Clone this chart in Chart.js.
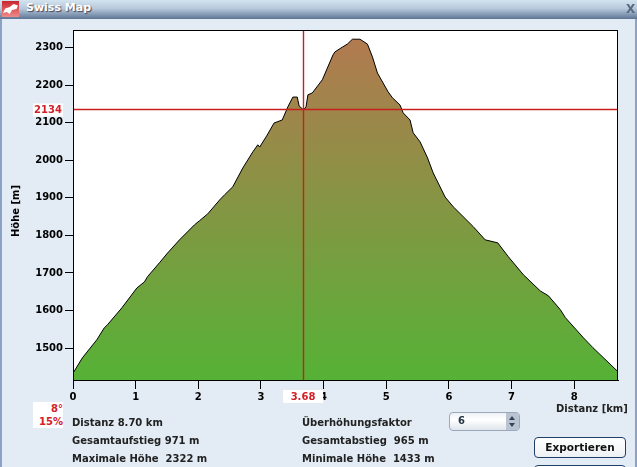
<!DOCTYPE html>
<html>
<head>
<meta charset="utf-8">
<title>Swiss Map</title>
<script src="https://cdn.jsdelivr.net/npm/chart.js@4/dist/chart.umd.min.js"></script>
<style>
html, body { margin: 0; padding: 0; }
body { width: 637px; height: 467px; overflow: hidden; position: relative; background: #e3ecf5; font-family: "DejaVu Sans", sans-serif; }
#chart { position: absolute; left: 0; top: 0; }
.bar { position: absolute; left: 0; top: 0; width: 637px; height: 19px; background: linear-gradient(#d3e3ef, #b6c9dc 45%, #5d7494); }
.edge-l { position: absolute; left: 0; top: 19px; width: 2px; height: 448px; background: #8ba2c6; }
.edge-r { position: absolute; left: 635px; top: 19px; width: 2px; height: 448px; background: #8ba2c6; }
.icon { position: absolute; left: 2px; top: 1px; width: 17px; height: 16px; background: linear-gradient(#c8252b, #f08a8a); }
.icon div { position: absolute; left: 1px; top: 3px; width: 15px; height: 10px; background: #fff; clip-path: polygon(0 90%, 15% 45%, 45% 30%, 70% 0, 100% 15%, 90% 50%, 60% 60%, 45% 100%, 25% 80%); }
.title { position: absolute; left: 26px; top: 1px; color: #fff; font-size: 11px; font-weight: bold; text-shadow: 1px 1px 1px #445; }
.close { position: absolute; left: 626px; top: 2px; color: #5a6a80; font-size: 12px; font-weight: bold; }
.t { position: absolute; font-size: 10px; font-weight: bold; color: #222; white-space: pre; line-height: 12px; }
.ytitle { position: absolute; left: -14px; top: 205px; width: 60px; text-align: center; font-size: 10px; font-weight: bold; color: #000; line-height: 12px; transform: rotate(-90deg); }
.slope { position: absolute; left: 33px; top: 402px; width: 30px; height: 26px; background: #fff; color: #d32027; font-size: 10px; font-weight: bold; text-align: right; line-height: 13px; }
.spin { position: absolute; left: 449px; top: 412px; width: 69px; height: 17px; border: 1px solid #9aa8bc; border-radius: 4px; background: linear-gradient(#eef2f6, #ffffff 40%, #dfe5ec); }
.spin span { position: absolute; left: 8px; top: 2px; font-size: 10px; font-weight: bold; color: #234; }
.arrows { position: absolute; right: 0; top: 0; width: 13px; height: 17px; background: #b9c3d1; border-radius: 0 3px 3px 0; }
.up, .down { position: absolute; left: 3px; width: 0; height: 0; border-left: 3.5px solid transparent; border-right: 3.5px solid transparent; }
.up { top: 3px; border-bottom: 4px solid #345; }
.down { top: 10px; border-top: 4px solid #345; }
.btn { position: absolute; left: 534px; width: 90px; height: 19px; border: 1px solid #1f3f66; border-radius: 4px; background: linear-gradient(#ffffff, #eef1f4); font-size: 10.5px; font-weight: bold; color: #111; text-align: center; line-height: 19px; }
</style>
</head>
<body>
<canvas id="chart" width="637" height="467"></canvas>

<div class="bar"></div>
<div class="edge-l"></div>
<div class="edge-r"></div>
<div class="icon"><div></div></div>
<div class="title">Swiss Map</div>
<div class="close">X</div>

<div class="ytitle">Höhe [m]</div>
<div class="slope">8°<br>15%</div>
<div class="t" style="left:72px;top:417px">Distanz 8.70 km</div>
<div class="t" style="left:72px;top:435px">Gesamtaufstieg 971 m</div>
<div class="t" style="left:72px;top:453px">Maximale Höhe  2322 m</div>
<div class="t" style="left:302px;top:417px">Überhöhungsfaktor</div>
<div class="t" style="left:302px;top:435px">Gesamtabstieg  965 m</div>
<div class="t" style="left:302px;top:453px">Minimale Höhe  1433 m</div>
<div class="t" style="left:556px;top:403px">Distanz [km]</div>

<div class="spin"><span>6</span><div class="arrows"><div class="up"></div><div class="down"></div></div></div>
<div class="btn" style="top:437px">Exportieren</div>
<div class="btn" style="top:465px"></div>

<script>
// profile
const distanceKm = [0, 0.15, 0.38, 0.50, 0.55, 0.78, 1.02, 1.14, 1.19, 1.38, 1.51, 1.70, 1.94, 2.02, 2.15, 2.34, 2.42, 2.55, 2.71, 2.87, 2.95, 2.98, 3.10, 3.21, 3.34, 3.43, 3.51, 3.58, 3.61, 3.68, 3.72, 3.75, 3.82, 3.98, 4.15, 4.18, 4.30, 4.38, 4.46, 4.58, 4.70, 4.78, 4.86, 5.03, 5.10, 5.22, 5.27, 5.38, 5.43, 5.54, 5.66, 5.75, 5.94, 6.07, 6.39, 6.58, 6.78, 6.95, 7.19, 7.46, 7.59, 7.78, 7.86, 8.15, 8.30, 8.70];
const heightM = [1433, 1474, 1522, 1554, 1562, 1607, 1660, 1676, 1690, 1727, 1753, 1788, 1828, 1839, 1857, 1894, 1908, 1929, 1979, 2022, 2041, 2035, 2067, 2099, 2107, 2142, 2168, 2168, 2144, 2134, 2142, 2174, 2179, 2214, 2280, 2288, 2301, 2309, 2322, 2322, 2309, 2275, 2232, 2182, 2166, 2147, 2126, 2107, 2073, 2049, 2006, 1966, 1902, 1876, 1823, 1788, 1780, 1743, 1695, 1652, 1639, 1602, 1581, 1527, 1501, 1437];
const xTickValues = [0, 1, 2, 3, 4, 5, 6, 7, 8];
const yTickValues = [1500, 1600, 1700, 1800, 1900, 2000, 2100, 2200, 2300];
const cursorKm = 3.68;
const cursorM = 2134;

const RED = '#c8201f';
const tickFont = { family: 'DejaVu Sans', size: 10, weight: 'bold' };

function areaGradient(ctx) {
    const chart = ctx.chart;
    if (!chart.chartArea) return '#8a9a45';
    const yScale = chart.scales.y;
    const g = chart.ctx.createLinearGradient(0, yScale.getPixelForValue(2322), 0, chart.chartArea.bottom);
    g.addColorStop(0, '#b27a50');
    g.addColorStop(1, '#55b236');
    return g;
}

const frame = {
    id: 'frame',
    beforeDraw(chart) {
        const a = chart.chartArea;
        chart.ctx.fillStyle = '#fff';
        chart.ctx.fillRect(a.left, a.top, a.width, a.height);
    },
    afterDraw(chart) {
        const c = chart.ctx, a = chart.chartArea;
        const px = Math.floor(chart.scales.x.getPixelForValue(cursorKm)) + 0.5;
        const py = Math.floor(chart.scales.y.getPixelForValue(cursorM)) + 0.5;
        c.save();
        // crosshair
        c.strokeStyle = RED;
        c.lineWidth = 1.4;
        c.beginPath();
        c.moveTo(a.left, py); c.lineTo(a.right, py);
        c.moveTo(px, a.top); c.lineTo(px, a.bottom);
        c.stroke();
        // plot border
        c.lineWidth = 1;
        c.strokeStyle = '#000';
        c.strokeRect(a.left + 0.5, a.top + 0.5, a.width - 1, a.height);
        // value boxes
        c.fillStyle = '#fff';
        c.fillRect(33, py - 6, 30, 13);
        c.fillRect(283, 390, 40, 13);
        c.fillStyle = '#d32027';
        c.font = 'bold 10px "DejaVu Sans"';
        c.textBaseline = 'middle';
        c.textAlign = 'center';
        c.fillText(String(cursorM), 48, py + 0.5);
        c.fillText(cursorKm.toFixed(2), 303, 397);
        c.restore();
    }
};

new Chart(document.getElementById('chart'), {
    type: 'line',
    data: {
        datasets: [{
            data: distanceKm.map((d, i) => ({ x: d, y: heightM[i] })),
            borderColor: '#000',
            borderWidth: 1,
            backgroundColor: areaGradient,
            fill: 'start',
            pointRadius: 0,
            tension: 0
        }]
    },
    options: {
        responsive: false,
        animation: false,
        layout: { padding: { top: 30, right: 19, left: 0, bottom: 0 } },
        plugins: { legend: { display: false }, tooltip: { enabled: false } },
        scales: {
            x: {
                type: 'linear',
                min: 0,
                max: 8.7,
                afterBuildTicks: s => { s.ticks = xTickValues.map(v => ({ value: v })); },
                afterFit: s => { s.height = 87; },
                grid: { drawOnChartArea: false, tickLength: 9, tickColor: '#000' },
                border: { color: '#000' },
                ticks: { color: '#000', font: tickFont, padding: 2, maxRotation: 0, callback: v => String(v) }
            },
            y: {
                min: 1415,
                max: 2346.5,
                afterBuildTicks: s => { s.ticks = yTickValues.map(v => ({ value: v })); },
                afterFit: s => { s.width = 73; },
                grid: { drawOnChartArea: false, tickLength: 8, tickColor: '#000' },
                border: { color: '#000' },
                ticks: { color: '#000', font: tickFont, padding: 2, callback: v => String(v) }
            }
        }
    },
    plugins: [frame]
});
</script>
</body>
</html>
